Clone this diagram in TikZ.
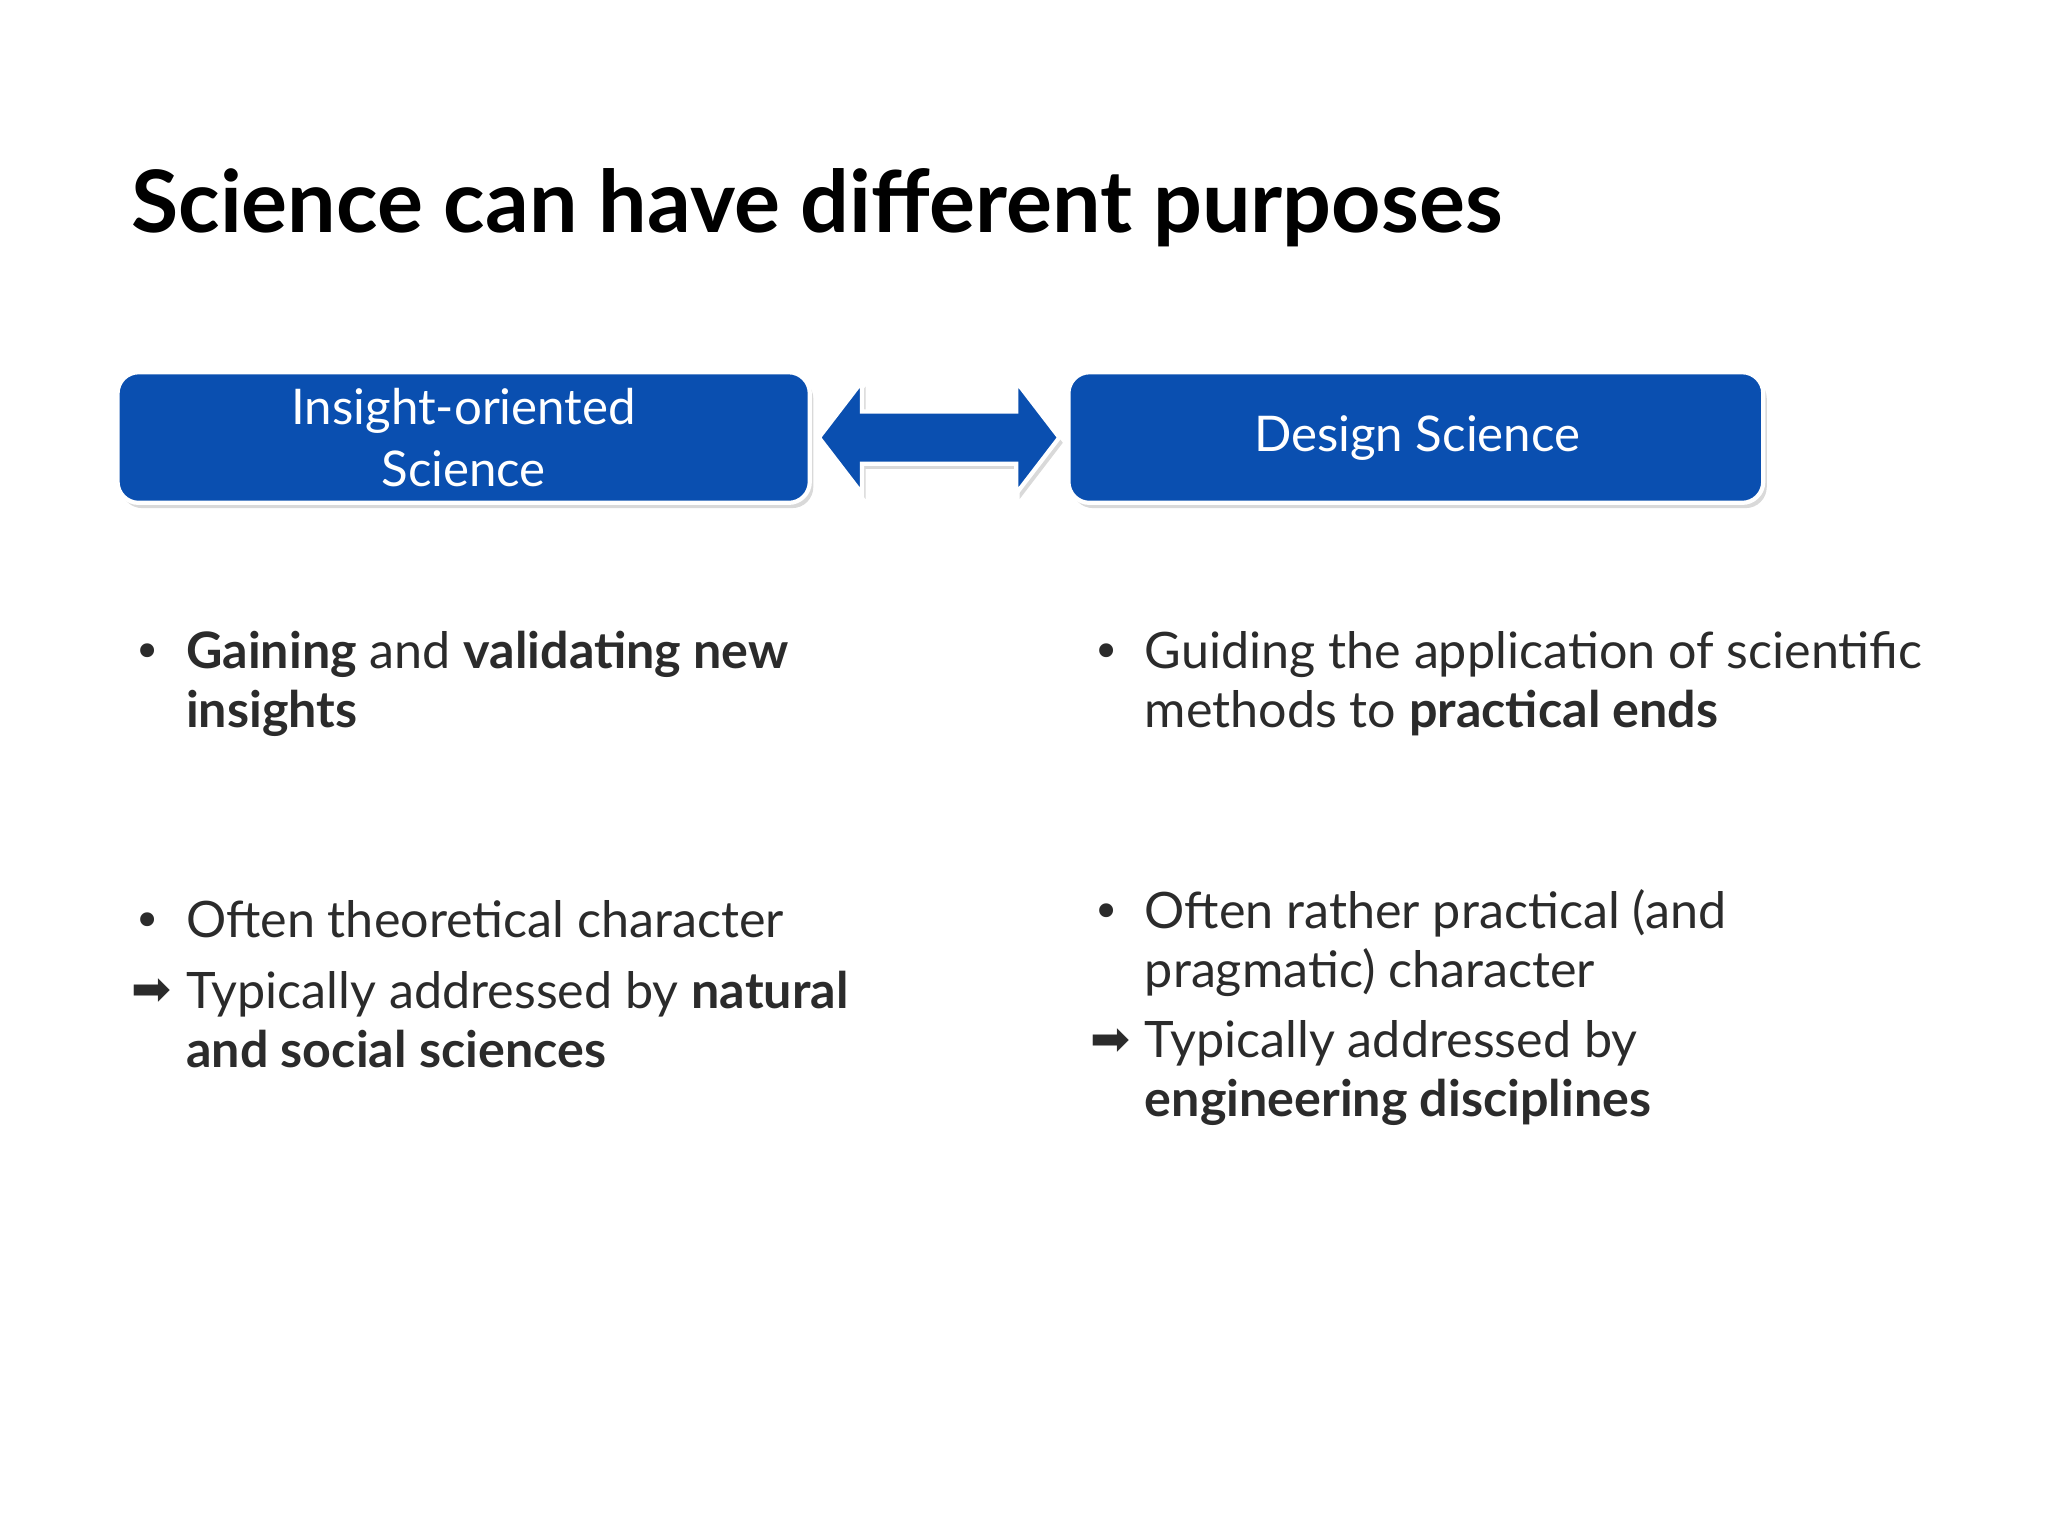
\documentclass[tikz,border=0pt]{standalone}
\usepackage{fontspec}
\setmainfont{Lato}
\newfontfamily\symf{DejaVu Sans}
\usetikzlibrary{shadows}
\definecolor{boxblue}{HTML}{0A4FB0}
\definecolor{txt}{HTML}{2B2B2B}
\tikzset{
  bluebox/.style={draw=white,line width=1.2pt,fill=boxblue,rounded corners=6pt,drop shadow={shadow xshift=1pt,shadow yshift=-1.5pt,opacity=0.3}},
  boxtext/.style={text=white,align=center,font=\fontsize{14}{17.5}\selectfont},
  item/.style={anchor=base west,inner sep=0pt,text=txt,font=\fontsize{14.3}{17.2}\selectfont},
  bulmark/.style={anchor=base west,inner sep=0pt,text=txt,font=\fontsize{13.6}{17.2}\selectfont}
}
\begin{document}
\begin{tikzpicture}[x=0.013061cm,y=-0.013061cm]
\useasboundingbox (0,0) rectangle (1568,1176);
\node[anchor=base west,inner sep=0pt,font=\fontsize{24.5}{28}\selectfont\bfseries] (title) at (100,178) {Science can have different purposes};
\draw[bluebox] (90,285) rectangle (620,385);
\node[boxtext] (ins) at (355,335) {Insight-oriented\\Science};
\draw[bluebox] (818,285) rectangle (1350,385);
\node[boxtext] (des) at (1085,335) {Design Science};
\draw[draw=white,line width=1.2pt,fill=boxblue,drop shadow={shadow xshift=1pt,shadow yshift=-1.5pt,opacity=0.3}]
 (627,335) -- (660,292) -- (660,315) -- (778,315) -- (778,292) -- (811,335) -- (778,378) -- (778,355) -- (660,355) -- (660,378) -- cycle;
% left
\node[bulmark] (b1) at (102,512) {\symf •};
\node[item] (l1) at (142,512) {\textbf{Gaining} and \textbf{validating new}};
\node[item] (l1b) at (142,557) {\textbf{insights}};
\node[bulmark] (b2) at (102,718) {\symf •};
\node[item] (l2) at (142,718) {Often theoretical character};
\node[bulmark] (a1) at (100,770) {\symf ➡};
\node[item] (l3) at (142,772) {Typically addressed by \textbf{natural}};
\node[item] (l3b) at (142,817) {\textbf{and social sciences}};
% right
\node[bulmark] (b3) at (836,512) {\symf •};
\node[item] (r1) at (876,512) {Guiding the application of scientific};
\node[item] (r1b) at (876,557) {methods to \textbf{practical ends}};
\node[bulmark] (b4) at (836,711) {\symf •};
\node[item] (r2) at (876,711) {Often rather practical (and};
\node[item] (r2b) at (876,756) {pragmatic) character};
\node[bulmark] (a2) at (834,808) {\symf ➡};
\node[item] (r3) at (876,810) {Typically addressed by};
\node[item] (r3b) at (876,855) {\textbf{engineering disciplines}};
\end{tikzpicture}
\end{document}
